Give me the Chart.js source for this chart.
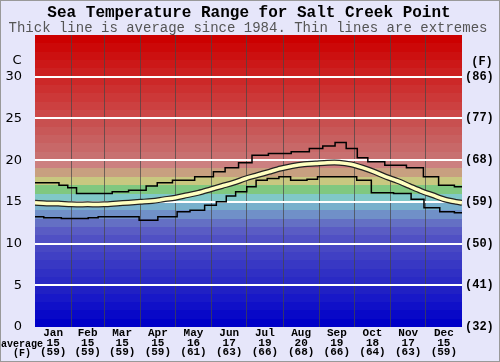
<!DOCTYPE html>
<html>
<head>
<meta charset="utf-8">
<script src="https://cdn.jsdelivr.net/npm/chart.js@4.4.1/dist/chart.umd.min.js"></script>
<style>
  body { margin: 0; background: #e6e6fa; }
  canvas { display: block; }
</style>
</head>
<body>
<canvas id="chart" width="500" height="362"></canvas>
<script>
const months = ['Jan', 'Feb', 'Mar', 'Apr', 'May', 'Jun', 'Jul', 'Aug', 'Sep', 'Oct', 'Nov', 'Dec'];
const monthStartDays = [0, 31, 59, 90, 120, 151, 181, 212, 243, 273, 304, 334, 365];
const monthAvgC = [15, 15, 15, 15, 16, 17, 19, 20, 19, 18, 17, 15];
const monthAvgF = [59, 59, 59, 59, 61, 63, 66, 68, 66, 64, 63, 59];

const yTicksC = [0, 5, 10, 15, 20, 25, 30];
const yTicksF = ['(32)', '(41)', '(50)', '(59)', '(68)', '(77)', '(86)'];

// average (thick line), day of year -> C
const avgDays = [0, 10, 20, 31, 45, 59, 70, 80, 90, 100, 110, 120, 130, 140, 150, 160, 170, 180, 190, 200, 210, 220, 230, 240, 250, 260, 270, 280, 290, 300, 310, 320, 330, 340, 350, 360, 365];
const avgTemp = [14.9, 14.8, 14.8, 14.7, 14.7, 14.7, 14.8, 14.9, 15.0, 15.1, 15.3, 15.5, 15.8, 16.1, 16.5, 16.9, 17.3, 17.8, 18.2, 18.6, 19.0, 19.3, 19.5, 19.6, 19.7, 19.7, 19.5, 19.1, 18.6, 18.0, 17.5, 16.9, 16.3, 15.8, 15.3, 15.0, 14.9];

// warmest recorded
const maxDays = [0, 15, 26, 30, 41, 62, 70, 90, 100, 109, 126, 147, 158, 167, 181, 190, 209, 229, 240, 252, 261, 271, 280, 289, 309, 326, 338, 352, 365];
const maxTemp = [17.3, 17.3, 17.0, 16.7, 16.0, 16.0, 16.2, 16.4, 16.9, 17.3, 17.6, 18.0, 18.6, 19.1, 19.7, 20.6, 20.8, 21.0, 21.4, 21.7, 22.1, 21.4, 20.3, 19.8, 19.4, 19.1, 18.0, 17.0, 16.8];

// coldest recorded
const minDays = [0, 15, 30, 41, 50, 58, 88, 90, 104, 106, 118, 125, 140, 150, 160, 167, 176, 186, 192, 205, 212, 225, 240, 243, 270, 280, 295, 318, 325, 340, 352, 365];
const minTemp = [13.2, 13.1, 13.0, 13.0, 13.1, 13.2, 13.2, 12.8, 12.8, 13.2, 13.2, 13.8, 14.0, 14.6, 15.0, 15.7, 16.2, 16.8, 17.6, 17.8, 18.0, 17.6, 17.7, 18.0, 18.0, 17.6, 16.1, 16.0, 15.3, 14.3, 13.8, 13.7];

// one colour per 1 C band, from 0 upwards
const bandColors = [
  '#0000c8', '#0808c8', '#1010c8', '#1818c8', '#2020c4',
  '#2a2ac4', '#3030c4', '#3838c4', '#4040c4', '#4848c4',
  '#5050c4', '#5a5cc4', '#6470c4', '#7090c8', '#78b0cc',
  '#80c8c8', '#80c880', '#c8c880', '#c8a080', '#cc8080',
  '#c87070', '#c86868', '#c86060', '#c85858', '#c85050',
  '#cc4848', '#cc4040', '#cc3838', '#cc3030', '#cc2828',
  '#cc2020', '#cc1818', '#cc1010', '#cc0808', '#cc0000'
];

const toXY = (days, temps) => days.map((d, i) => ({ x: d, y: temps[i] }));

const bandsPlugin = {
  id: 'bands',
  beforeDraw(chart) {
    const { ctx, chartArea: a, scales: { y } } = chart;
    ctx.save();
    bandColors.forEach((col, i) => {
      const top = Math.round(y.getPixelForValue(i + 1));
      const bot = Math.round(y.getPixelForValue(i));
      ctx.fillStyle = col;
      ctx.fillRect(a.left, top, a.right - a.left, bot - top);
    });
    ctx.restore();
  },
  afterDraw(chart) {
    const ctx = chart.ctx;
    ctx.save();
    ctx.fillStyle = '#000';
    ctx.textAlign = 'center';
    ctx.textBaseline = 'middle';
    ctx.font = 'bold 16px "Liberation Mono"';
    ctx.fillText('Sea Temperature Range for Salt Creek Point', 249, 13);
    ctx.fillStyle = '#555';
    ctx.font = '14px "Liberation Mono"';
    ctx.fillText('Thick line is average since 1984. Thin lines are extremes', 248, 28);
    ctx.fillStyle = '#000';
    ctx.font = '13px "DejaVu Sans"';
    ctx.fillText('C', 17, 61);
    ctx.font = 'bold 12px "Liberation Mono"';
    ctx.fillText('(F)', 482, 62);
    ctx.font = 'bold 10px "Liberation Mono"';
    ctx.fillText('average', 22, 344);
    ctx.fillText('(F)', 22, 353);
    ctx.strokeStyle = '#999';
    ctx.lineWidth = 1;
    ctx.strokeRect(0.5, 0.5, 499, 361);
    ctx.restore();
  }
};

new Chart(document.getElementById('chart'), {
  type: 'line',
  data: {
    datasets: [
      { data: toXY(avgDays, avgTemp), borderColor: '#ffffc0', borderWidth: 3.5, tension: 0.3, pointRadius: 0, order: 0 },
      { data: toXY(avgDays, avgTemp), borderColor: '#222', borderWidth: 6, tension: 0.3, pointRadius: 0, order: 1 },
      { data: toXY(maxDays, maxTemp), borderColor: '#000', borderWidth: 1.5, stepped: 'middle', pointRadius: 0, order: 2 },
      { data: toXY(minDays, minTemp), borderColor: '#000', borderWidth: 1.5, stepped: 'middle', pointRadius: 0, order: 2 }
    ]
  },
  options: {
    responsive: false,
    animation: false,
    devicePixelRatio: 1,
    layout: { padding: { top: 35, left: 0, right: 0, bottom: 0 } },
    plugins: { legend: { display: false }, tooltip: { enabled: false }, title: { display: false } },
    scales: {
      x: {
        type: 'linear', min: 0, max: 365, position: 'bottom',
        afterBuildTicks: s => { s.ticks = months.map((m, i) => ({ value: (monthStartDays[i] + monthStartDays[i + 1]) / 2 })); },
        afterFit: s => { s.height = 35; },
        grid: { display: false, drawTicks: false },
        border: { display: false },
        ticks: {
          autoSkip: false, maxRotation: 0, padding: 2, color: '#000',
          font: { family: 'Liberation Mono', size: 11, weight: 'bold', lineHeight: 0.86 },
          callback: (v, i) => [months[i], String(monthAvgC[i]), '(' + monthAvgF[i] + ')']
        }
      },
      x2: {
        type: 'linear', min: 0, max: 365, position: 'top',
        afterBuildTicks: s => { s.ticks = monthStartDays.slice(1, 12).map(v => ({ value: v })); },
        afterFit: s => { s.height = 0; },
        ticks: { display: false },
        grid: { color: 'rgba(70,70,70,0.7)', lineWidth: 1, drawTicks: false },
        border: { display: false }
      },
      y: {
        min: 0, max: 35, position: 'left',
        afterBuildTicks: s => { s.ticks = yTicksC.map(v => ({ value: v })); },
        afterFit: s => { s.width = 35; },
        grid: {
          color: c => (c.tick && c.tick.value === 0) ? 'rgba(0,0,0,0)' : '#ffffff',
          lineWidth: 2, drawTicks: false
        },
        border: { display: false },
        ticks: { color: '#000', padding: 13, font: { family: 'DejaVu Sans', size: 13 } }
      },
      yR: {
        min: 0, max: 35, position: 'right',
        afterBuildTicks: s => { s.ticks = yTicksC.map(v => ({ value: v })); },
        afterFit: s => { s.width = 38; },
        grid: { display: false, drawTicks: false },
        border: { display: false },
        ticks: {
          color: '#000', padding: 3,
          font: { family: 'Liberation Mono', size: 12, weight: 'bold' },
          callback: (v, i) => yTicksF[i]
        }
      }
    }
  },
  plugins: [bandsPlugin]
});
</script>
</body>
</html>
